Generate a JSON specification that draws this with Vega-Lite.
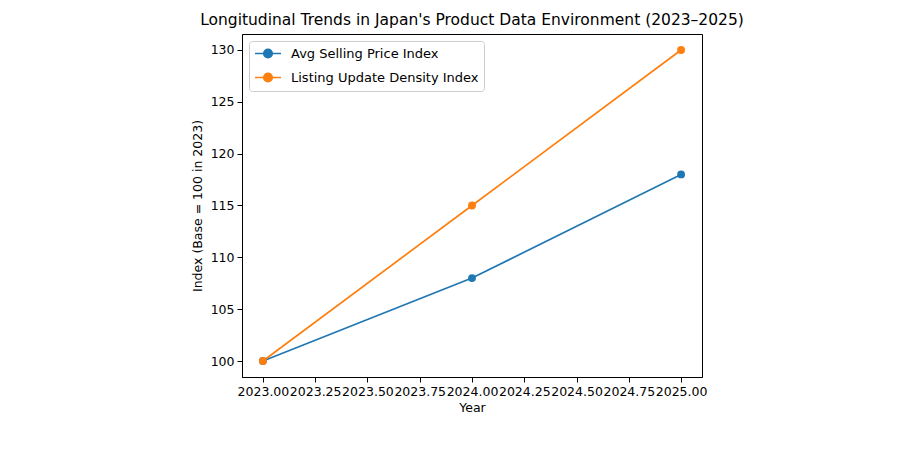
{
  "$schema": "https://vega.github.io/schema/vega-lite/v6.json",
  "autosize": {"type": "none"},
  "width": 460,
  "height": 343,
  "padding": {"left": 242, "top": 34, "right": 200, "bottom": 99},
  "background": "#ffffff",
  "title": {
    "text": "Longitudinal Trends in Japan's Product Data Environment (2023–2025)",
    "font": "DejaVu Sans",
    "fontSize": 15.5,
    "fontWeight": "normal",
    "color": "#000000",
    "anchor": "middle",
    "offset": 6
  },
  "data": {
    "values": [
      {"Year": 2023, "Series": "Avg Selling Price Index", "Index": 100},
      {"Year": 2024, "Series": "Avg Selling Price Index", "Index": 108},
      {"Year": 2025, "Series": "Avg Selling Price Index", "Index": 118},
      {"Year": 2023, "Series": "Listing Update Density Index", "Index": 100},
      {"Year": 2024, "Series": "Listing Update Density Index", "Index": 115},
      {"Year": 2025, "Series": "Listing Update Density Index", "Index": 130}
    ]
  },
  "mark": {
    "type": "line",
    "strokeWidth": 1.7,
    "point": {"filled": true, "size": 62}
  },
  "encoding": {
    "x": {
      "field": "Year",
      "type": "quantitative",
      "scale": {"domain": [2022.9, 2025.1], "nice": false, "zero": false},
      "axis": {
        "values": [2023, 2023.25, 2023.5, 2023.75, 2024, 2024.25, 2024.5, 2024.75, 2025],
        "format": ".2f",
        "labelOverlap": false,
        "labelFlush": false,
        "title": "Year",
        "titlePadding": 4
      }
    },
    "y": {
      "field": "Index",
      "type": "quantitative",
      "scale": {"domain": [98.46, 131.54], "nice": false, "zero": false},
      "axis": {
        "values": [100, 105, 110, 115, 120, 125, 130],
        "title": "Index (Base = 100 in 2023)",
        "titlePadding": 6
      }
    },
    "color": {
      "field": "Series",
      "type": "nominal",
      "scale": {
        "domain": ["Avg Selling Price Index", "Listing Update Density Index"],
        "range": ["#1f77b4", "#ff7f0e"]
      },
      "legend": {
        "title": null,
        "orient": "top-left",
        "offset": 7,
        "padding": 5,
        "rowPadding": 7,
        "fillColor": "rgba(255,255,255,0.8)",
        "strokeColor": "#cccccc",
        "cornerRadius": 3,
        "symbolType": "M-1,0H3M0.35,0A0.65,0.65 0 1,1 1.65,0A0.65,0.65 0 1,1 0.35,0Z",
        "symbolSize": 169,
        "symbolStrokeWidth": 1.7,
        "labelOffset": 22,
        "labelLimit": 0,
        "labelFont": "DejaVu Sans",
        "labelFontSize": 13,
        "labelColor": "#000000",
        "encode": {
          "symbols": {
            "update": {
              "fill": {"scale": "color", "field": "value"},
              "stroke": {"scale": "color", "field": "value"}
            }
          }
        }
      }
    }
  },
  "config": {
    "font": "DejaVu Sans",
    "view": {"stroke": "#000000", "strokeWidth": 1, "fill": "#ffffff"},
    "axis": {
      "grid": false,
      "domainColor": "#000000",
      "tickColor": "#000000",
      "tickSize": 5,
      "labelPadding": 3,
      "labelFont": "DejaVu Sans",
      "labelFontSize": 12.5,
      "labelColor": "#000000",
      "titleFont": "DejaVu Sans",
      "titleFontSize": 12.5,
      "titleFontWeight": "normal",
      "titleColor": "#000000"
    }
  }
}
